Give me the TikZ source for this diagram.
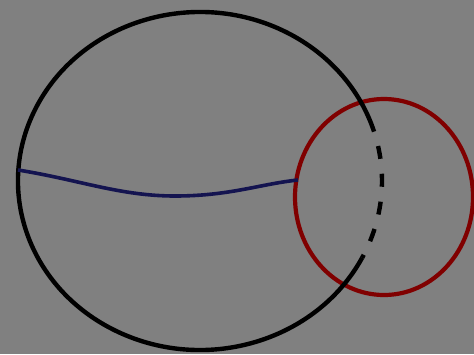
\documentclass[tikz,border=0pt]{standalone}
\begin{document}
\begin{tikzpicture}[x=1pt,y=-1pt,
  bigring/.style={draw=black,line width=4.4pt},
  redring/.style={draw={rgb,255:red,128;green,0;blue,0},line width=4.2pt},
  bluecurve/.style={draw={rgb,255:red,20;green,20;blue,80},line width=3.6pt}]
\fill[gray] (0,0) rectangle (474,354);
\useasboundingbox (0,0) rectangle (474,354);
\coordinate (bc) at (200,181);
\coordinate (rc) at (384,197);
% red circle
\draw[redring] (rc) ellipse [x radius=89, y radius=98];
% black circle, solid part
\draw[bigring] (bc) ++(27:182 and 169) arc [start angle=27, end angle=343, x radius=182, y radius=169];
% black circle, dashed part inside red circle
\draw[bigring,dash pattern=on 13pt off 15pt,dash phase=13pt] (bc) ++(-17:182 and 169) arc [start angle=-17, end angle=27, x radius=182, y radius=169];
% blue curve
\coordinate (bl) at (18,170);
\coordinate (br) at (298,180);
\draw[bluecurve] (bl) .. controls (80,180) and (120,196) .. (175,196) .. controls (230,196) and (260,184) .. (br);
\end{tikzpicture}
\end{document}
